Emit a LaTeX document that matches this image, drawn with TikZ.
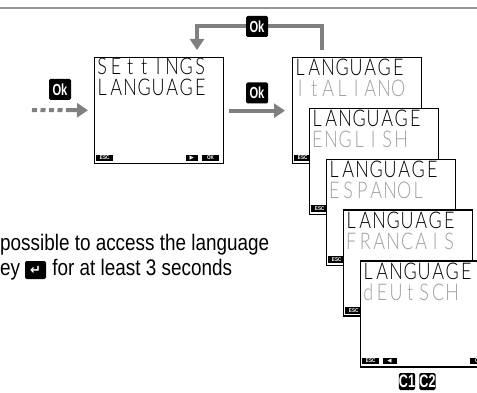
\documentclass[tikz,border=0pt]{standalone}
\usepackage{fontspec}
\setmainfont[FakeStretch=0.84]{Liberation Sans}
\newfontfamily\lcdfont[FakeStretch=0.78]{Lato Light}
\newfontfamily\keyfont[FakeStretch=0.7]{Liberation Sans}
\newfontfamily\symfont{DejaVu Sans}
\usetikzlibrary{arrows.meta,positioning}

\definecolor{arrowgray}{RGB}{128,128,128}
\definecolor{rulegray}{RGB}{150,150,150}
\definecolor{lcdgray}{RGB}{160,160,160}

% one LCD cell per character
\newlength{\lcdpitch}\setlength{\lcdpitch}{14pt}
\newcommand{\lcd}[1]{\lcdi#1\relax}
\def\lcdi#1{\ifx#1\relax\else\makebox[\lcdpitch]{#1}\expandafter\lcdi\fi}

\begin{document}
\begin{tikzpicture}[x=1pt, y=-1pt, font=\fontsize{22.5}{25}\selectfont]
\tikzset{%
	flow/.style = {draw=arrowgray, line width=4pt, -{Triangle[length=11pt,width=14pt]}},
	screen/.style = {draw, line width=1.3pt, fill=white, minimum width=129pt, minimum height=106pt, inner sep=0pt, anchor=north west},
	okkey/.style = {fill=black, text=white, rounded corners=1.5pt, minimum width=22pt, minimum height=21pt, inner sep=0pt, font=\keyfont\bfseries\fontsize{16}{16}\selectfont},
	chan/.style = {okkey, minimum width=16pt, minimum height=17pt, font=\keyfont\bfseries\fontsize{18}{18}\selectfont},
	softkey/.style = {fill=black, text=white, minimum height=6.5pt, inner sep=0pt, anchor=south west, font=\bfseries\fontsize{5.5}{5.5}\selectfont},
	lcdrow/.style = {inner sep=0pt, anchor=base west, text height=16.5pt, text depth=0pt, font=\lcdfont\fontsize{23}{23}\selectfont},
	enterkey/.style = {fill=black, text=white, rounded corners=2pt, minimum width=21pt, minimum height=18pt, inner sep=0pt, font=\symfont\bfseries\fontsize{13}{13}\selectfont}
}
\useasboundingbox (0,0) rectangle (477,393);

% top rule
\draw[rulegray, line width=2pt] (0,8) -- (477,8);

% settings screen
\node[screen] (set) at (94,57) {};
\node[lcdrow] (set-hd) at ([xshift=1pt,yshift=-18pt]set.north west) {\lcd{SEttINGS}};
\node[lcdrow] (set-nm) at ([xshift=1pt,yshift=-39pt]set.north west) {\lcd{LANGUAGE}};
\node[softkey, minimum width=17pt] (set-esc) at ([xshift=2pt,yshift=3pt]set.south west) {ESC};
\node[softkey, minimum width=17pt, anchor=south east] (set-ok) at ([xshift=-5pt,yshift=3pt]set.south east) {OK};
\node[softkey, minimum width=12pt, left=4pt of set-ok] (set-fwd) {\symfont ▶};

% language screens
\foreach \name [count=\i from 0] in {ItALIANO,ENGLISH,ESPANOL,FRANCAIS,dEUtSCH}{
	\node[screen] (lang\i) at (292+17*\i, 57+50.8*\i) {};
	\node[lcdrow] (lang\i-hd) at ([xshift=1pt,yshift=-19pt]lang\i.north west) {\lcd{LANGUAGE}};
	\node[lcdrow, text=lcdgray] (lang\i-nm) at ([xshift=1pt,yshift=-40pt]lang\i.north west) {\expandafter\lcd\expandafter{\name}};
	\node[softkey, minimum width=17pt] (lang\i-esc) at ([xshift=2pt,yshift=3pt]lang\i.south west) {ESC};
}
\node[softkey, minimum width=14pt, right=3pt of lang4-esc] (lang4-back) {\symfont ◀};
\node[softkey, minimum width=17pt, anchor=south east] (lang4-ok) at ([xshift=-3pt,yshift=3pt]lang4.south east) {OK};

% arrows
\coordinate (start) at (32,110);
\draw[flow, dash pattern=on 5pt off 3.5pt on 5pt off 3.5pt on 5pt off 3.5pt on 5pt off 3.5pt on 80pt, shorten >=6pt] (start) -- (set);
\draw[flow, shorten <=5pt, shorten >=7pt] (set) -- (lang0);

\coordinate (looptop) at (257,26.5);
\coordinate (up) at ([xshift=30pt]lang0.north west);
\coordinate (down) at ([xshift=103pt]set.north west);
\draw[flow, shorten <=7pt, shorten >=7pt] (up) -- (up |- looptop) -- (down |- looptop) -- (down);

\node[okkey] (okin) at (60,89.5) {Ok};
\node[okkey] (okgo) at (257,93) {Ok};
\node[okkey] (okloop) at (looptop) {Ok};

% note
\node[anchor=base west, inner sep=0pt] (note1) at (0,251) {possible to access the language};
\node[anchor=base west, inner sep=0pt] (note2) at (0,276) {ey};
\node[enterkey] (key) at (35.5,270) {↵};
\node[anchor=base west, inner sep=0pt, xshift=6pt] (note3) at (key.east |- note2.base) {for at least 3 seconds};

% channels
\node[chan] (c1) at (407,381.5) {C1};
\node[chan, right=4pt of c1] (c2) {C2};

\end{tikzpicture}
\end{document}
